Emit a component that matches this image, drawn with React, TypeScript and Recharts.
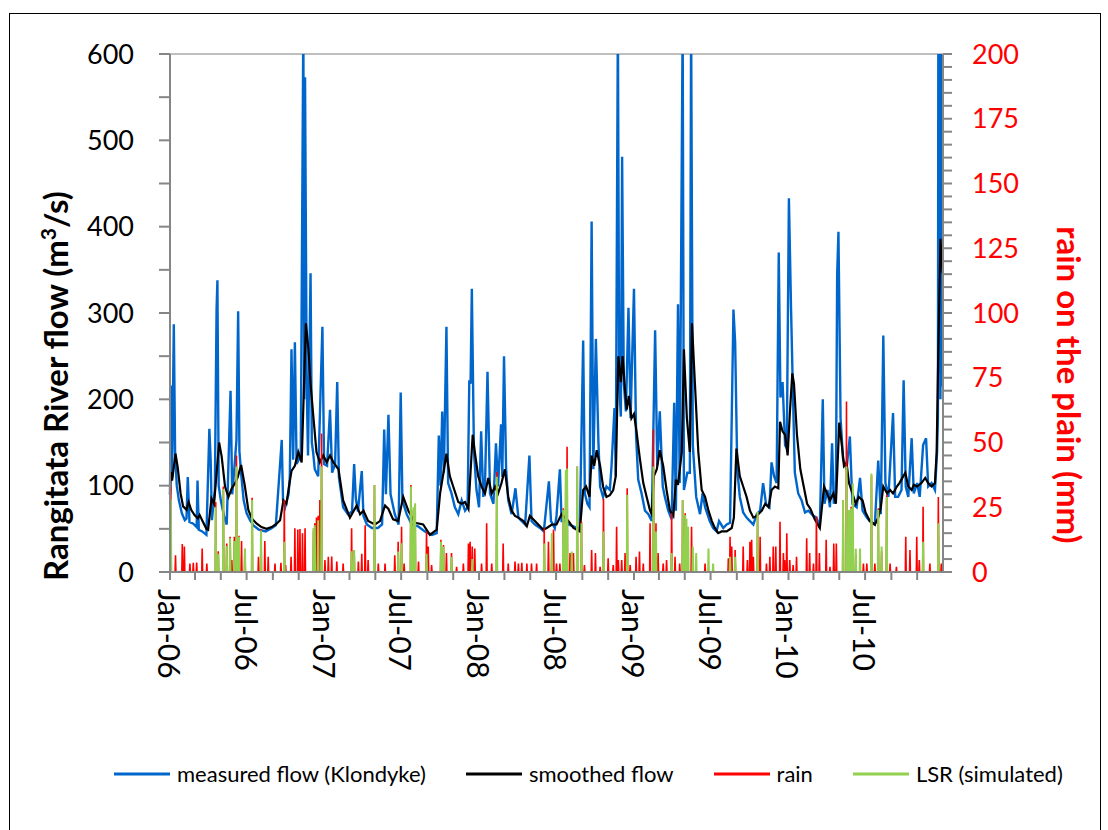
import { CartesianGrid, ComposedChart, Line, XAxis, YAxis } from 'recharts'

// [day since 1 Jan 2006, value]
type Pt = [number, number]

const START = Date.UTC(2006, 0, 1)
const dayOf = (y: number, m: number) => (Date.UTC(y, m, 1) - START) / 86400000
const END_DAY = dayOf(2011, 0)

const xTickLabels = ['Jan-06', 'Jul-06', 'Jan-07', 'Jul-07', 'Jan-08', 'Jul-08', 'Jan-09', 'Jul-09', 'Jan-10', 'Jul-10']

// measured flow at Klondyke, m3/s
const measuredFlow: Pt[] = [
  [0, 90], [2, 216], [5, 110], [9, 287], [12, 140], [16, 100], [21, 83], [28, 68], [35, 60], [39, 62],
  [42, 110], [46, 58], [55, 56], [63, 52], [65, 106], [68, 49], [76, 47], [86, 43], [93, 166], [96, 130],
  [99, 60], [106, 95], [110, 304], [112, 338], [115, 100], [120, 83], [128, 64], [134, 55], [143, 210], [147, 90],
  [152, 120], [157, 153], [161, 302], [164, 140], [168, 114], [174, 83], [181, 68], [189, 60], [197, 54], [210, 49],
  [226, 47], [238, 50], [250, 54], [264, 153], [267, 83], [272, 75], [280, 90], [283, 110], [287, 258], [291, 130],
  [295, 266], [299, 125], [304, 130], [309, 140], [315, 640], [317, 200], [319, 573], [323, 214], [326, 135], [332, 346],
  [335, 150], [338, 139], [342, 119], [350, 111], [360, 284], [364, 125], [371, 123], [378, 188], [383, 115], [390, 125],
  [395, 220], [399, 110], [409, 75], [420, 67], [430, 70], [435, 125], [439, 85], [444, 70], [453, 117], [457, 65],
  [465, 55], [477, 51], [491, 51], [501, 55], [506, 165], [510, 90], [516, 182], [521, 90], [531, 67], [540, 55],
  [545, 208], [549, 83], [559, 67], [571, 55], [586, 53], [602, 47], [619, 43], [630, 45], [635, 158], [639, 100],
  [643, 186], [647, 115], [653, 284], [657, 103], [665, 91], [673, 75], [681, 67], [689, 83], [697, 71], [703, 75],
  [707, 222], [710, 218], [713, 328], [718, 139], [724, 95], [730, 75], [735, 163], [740, 87], [744, 99], [750, 232],
  [756, 91], [764, 79], [770, 149], [775, 99], [782, 171], [785, 110], [789, 250], [794, 119], [799, 83], [807, 67],
  [816, 97], [823, 63], [831, 59], [839, 55], [849, 135], [854, 59], [862, 55], [874, 51], [883, 47], [895, 105],
  [900, 59], [909, 51], [913, 65], [921, 119], [925, 59], [933, 59], [941, 55], [953, 53], [961, 51], [968, 51],
  [976, 268], [980, 91], [986, 79], [991, 75], [996, 406], [1000, 119], [1006, 270], [1012, 151], [1016, 99], [1023, 87],
  [1031, 99], [1039, 95], [1043, 123], [1050, 190], [1053, 111], [1058, 640], [1061, 218], [1065, 180], [1068, 481], [1072, 218],
  [1077, 186], [1083, 306], [1088, 178], [1096, 328], [1101, 158], [1106, 107], [1114, 91], [1122, 71], [1130, 67], [1138, 59],
  [1146, 280], [1151, 123], [1157, 186], [1164, 99], [1169, 87], [1177, 71], [1185, 61], [1191, 196], [1195, 71], [1200, 310],
  [1204, 103], [1211, 640], [1214, 95], [1222, 115], [1228, 115], [1231, 640], [1235, 147], [1243, 87], [1252, 67], [1258, 91],
  [1264, 75], [1275, 59], [1283, 51], [1291, 47], [1297, 59], [1307, 51], [1315, 55], [1323, 57], [1331, 304], [1335, 266],
  [1340, 119], [1346, 87], [1354, 69], [1362, 63], [1370, 59], [1378, 55], [1386, 67], [1394, 71], [1401, 103], [1408, 79],
  [1416, 75], [1421, 127], [1427, 111], [1433, 103], [1438, 370], [1442, 202], [1447, 220], [1453, 147], [1457, 143], [1462, 433],
  [1467, 306], [1471, 218], [1476, 115], [1484, 91], [1492, 83], [1500, 69], [1508, 71], [1516, 67], [1520, 65], [1527, 63],
  [1535, 51], [1542, 200], [1546, 79], [1553, 95], [1559, 75], [1564, 149], [1568, 79], [1573, 91], [1576, 344], [1579, 394],
  [1584, 178], [1590, 131], [1598, 119], [1606, 157], [1612, 79], [1622, 75], [1630, 109], [1636, 71], [1646, 63], [1653, 59],
  [1665, 55], [1673, 129], [1679, 67], [1685, 274], [1690, 103], [1697, 87], [1708, 184], [1713, 87], [1720, 87], [1728, 95],
  [1733, 222], [1738, 99], [1744, 87], [1752, 155], [1757, 91], [1765, 103], [1771, 87], [1779, 147], [1786, 155], [1791, 99],
  [1799, 103], [1807, 95], [1812, 139], [1814, 180], [1815, 640], [1816, 230], [1817, 640], [1818, 258], [1819, 640], [1820, 200],
  [1821, 640], [1822, 215], [1823, 640], [1824, 240], [1825, 640],
]

// smoothed flow, m3/s
const smoothedFlow: Pt[] = [
  [0, 89], [2, 116], [5, 106], [13, 137], [18, 122], [25, 91], [31, 76], [39, 72], [44, 81], [50, 72],
  [58, 66], [66, 62], [70, 66], [78, 58], [86, 50], [90, 49], [98, 85], [104, 79], [110, 114], [116, 150],
  [122, 134], [130, 99], [138, 87], [146, 97], [154, 103], [160, 110], [168, 124], [177, 99], [185, 72], [193, 62],
  [205, 56], [216, 52], [228, 50], [240, 52], [252, 56], [260, 60], [268, 83], [275, 79], [283, 105], [287, 117],
  [295, 123], [303, 139], [311, 127], [321, 288], [327, 258], [332, 218], [339, 178], [346, 139], [354, 127], [362, 135],
  [370, 127], [378, 135], [386, 127], [398, 119], [409, 83], [425, 63], [441, 77], [449, 67], [457, 71], [468, 59],
  [484, 55], [496, 59], [508, 77], [516, 73], [527, 61], [539, 59], [551, 87], [563, 71], [579, 57], [598, 55],
  [614, 43], [630, 49], [638, 91], [646, 115], [653, 137], [661, 111], [669, 99], [681, 81], [689, 79], [697, 81],
  [705, 73], [708, 99], [715, 159], [720, 139], [728, 111], [736, 99], [744, 91], [752, 109], [760, 91], [768, 99],
  [775, 91], [783, 103], [791, 119], [799, 87], [807, 71], [815, 65], [823, 63], [835, 59], [843, 53], [850, 65],
  [858, 61], [870, 55], [882, 49], [890, 51], [902, 55], [913, 55], [925, 67], [933, 63], [941, 59], [953, 51],
  [961, 49], [968, 47], [976, 95], [983, 99], [991, 87], [996, 135], [1002, 123], [1008, 141], [1016, 123], [1023, 99],
  [1031, 87], [1039, 89], [1047, 95], [1053, 111], [1059, 250], [1065, 220], [1069, 250], [1075, 210], [1079, 188], [1084, 204],
  [1090, 178], [1096, 183], [1102, 163], [1110, 131], [1118, 103], [1126, 87], [1134, 71], [1138, 67], [1143, 111], [1150, 119],
  [1157, 141], [1165, 123], [1173, 95], [1181, 71], [1189, 65], [1195, 107], [1200, 101], [1209, 139], [1214, 258], [1221, 178],
  [1228, 139], [1233, 288], [1240, 218], [1248, 139], [1256, 95], [1264, 87], [1272, 71], [1280, 59], [1287, 51], [1295, 45],
  [1303, 47], [1315, 47], [1327, 51], [1332, 63], [1338, 143], [1346, 111], [1354, 99], [1362, 87], [1370, 71], [1378, 63],
  [1386, 65], [1398, 71], [1406, 79], [1414, 75], [1421, 95], [1429, 99], [1437, 97], [1441, 174], [1447, 163], [1453, 159],
  [1459, 135], [1464, 182], [1470, 230], [1474, 218], [1481, 159], [1489, 119], [1497, 99], [1505, 79], [1513, 73], [1523, 61],
  [1535, 51], [1545, 99], [1552, 91], [1559, 83], [1567, 91], [1573, 79], [1581, 173], [1587, 147], [1592, 123], [1598, 127],
  [1604, 103], [1612, 91], [1620, 79], [1627, 87], [1636, 83], [1643, 69], [1653, 59], [1665, 55], [1673, 63], [1679, 75],
  [1685, 99], [1694, 91], [1701, 95], [1708, 91], [1717, 99], [1723, 103], [1737, 115], [1744, 99], [1752, 95], [1757, 101],
  [1765, 99], [1775, 103], [1784, 109], [1791, 103], [1799, 99], [1807, 103], [1811, 139], [1815, 258], [1820, 386], [1825, 346],
]

// daily rain on the plain, mm (days without rain are zero)
const rainDays: Pt[] = [
  [0, 6], [2, 33], [13, 6.5], [29, 10.8], [34, 9.8], [47, 3.3], [55, 3.6], [63, 3.7], [76, 9.1], [87, 3.3],
  [108, 27], [114, 8], [126, 33], [134, 11], [142, 13.6], [146, 4.6], [152, 13.6], [157, 45], [163, 14], [169, 12],
  [177, 9], [194, 28.7], [209, 5.9], [215, 16.5], [224, 12], [232, 5.9], [248, 3.3], [262, 3.6], [270, 27.8], [273, 2.7],
  [286, 5.9], [295, 16.9], [302, 16.4], [307, 16.6], [313, 15], [319, 16.9], [339, 16], [342, 18.8], [346, 21], [350, 21.7],
  [354, 27.8], [358, 53.5], [366, 4.6], [374, 5.9], [382, 6], [394, 4], [409, 3.3], [429, 16.9], [435, 8.5], [445, 4],
  [453, 7], [461, 18], [468, 4.6], [483, 33.6], [492, 3.3], [508, 3.3], [531, 6.5], [539, 11.7], [547, 17.5], [553, 3.3],
  [569, 33.6], [575, 24], [579, 26], [587, 4], [606, 15.6], [610, 9.8], [618, 2.7], [640, 12.4], [646, 10.4], [653, 7.3],
  [665, 7.3], [677, 2], [693, 3.3], [705, 11], [709, 11.7], [714, 9.8], [720, 9.1], [736, 3.3], [748, 18.8], [760, 3.3],
  [772, 38.7], [787, 11], [799, 3.3], [815, 4], [823, 3.3], [831, 3.6], [843, 3.3], [854, 3.3], [866, 3.3], [884, 16.9],
  [894, 11.7], [902, 11], [906, 16.4], [913, 3.3], [921, 3.3], [929, 24.6], [935, 39], [938, 48.4], [945, 7.3], [949, 7],
  [953, 7.3], [962, 40.7], [972, 19.4], [979, 2.7], [996, 8.5], [1005, 7.3], [1016, 2], [1024, 28.4], [1035, 5.3], [1047, 2.7],
  [1055, 17.5], [1059, 4.6], [1067, 4.6], [1075, 7.3], [1080, 32.3], [1087, 2.7], [1101, 5.9], [1109, 7.9], [1118, 3.3], [1134, 18.8],
  [1142, 55], [1148, 18.8], [1153, 7.3], [1165, 3.3], [1173, 4.6], [1185, 22.7], [1193, 5.9], [1204, 3.3], [1211, 27.8], [1217, 22.7],
  [1232, 17.5], [1264, 3.3], [1319, 5.3], [1323, 13.6], [1327, 9.8], [1335, 8.5], [1354, 9.8], [1364, 4.6], [1370, 11.7], [1374, 12.4],
  [1378, 5.9], [1388, 22.7], [1394, 13.6], [1409, 3.3], [1417, 5.9], [1425, 9.8], [1431, 9.8], [1441, 19.4], [1449, 7.3], [1452, 4.6],
  [1457, 15], [1464, 4.6], [1472, 2.7], [1480, 5.9], [1504, 13], [1511, 7.3], [1520, 3.3], [1527, 21.4], [1534, 7.3], [1550, 12.4],
  [1559, 2], [1568, 11], [1574, 11], [1590, 27.8], [1598, 65.8], [1604, 20], [1609, 25.2], [1620, 7], [1638, 3.3], [1646, 3.3],
  [1657, 37.3], [1665, 3.3], [1673, 24.6], [1681, 8], [1693, 29.7], [1701, 3.3], [1716, 2], [1738, 13.6], [1748, 8.5], [1764, 13.6],
  [1770, 4.6], [1779, 25.2], [1795, 3.3], [1815, 29], [1822, 3.3],
]

// simulated land surface recharge, mm (zero on other days)
const lsrDays: Pt[] = [
  [2, 28], [108, 25], [114, 7], [126, 32], [134, 10], [142, 13], [152, 12], [157, 40.7], [163, 13.6], [177, 9],
  [194, 27.8], [215, 16], [270, 11.7], [339, 17], [342, 18], [350, 20], [358, 40.7], [429, 8], [435, 8.5], [483, 33.6],
  [539, 7.9], [547, 11.1], [569, 33], [575, 25], [579, 26.5], [606, 7], [640, 11.7], [646, 9.8], [665, 5.9], [714, 5],
  [772, 36.8], [884, 11], [902, 15], [929, 24], [935, 39.4], [938, 40], [949, 7.9], [962, 40.7], [972, 18.8], [1024, 15.6],
  [1080, 29.7], [1142, 40.7], [1148, 15.6], [1185, 7.3], [1211, 27.8], [1217, 22], [1220, 20.6], [1224, 17.5], [1235, 9.8], [1243, 7.3],
  [1272, 9.1], [1283, 3.3], [1323, 5.9], [1335, 5.9], [1388, 23.3], [1590, 27.8], [1598, 40.7], [1604, 23.9], [1609, 24.6], [1613, 34.2],
  [1620, 9], [1630, 9.1], [1657, 38], [1673, 24], [1681, 9.8], [1693, 29], [1779, 11.7], [1815, 18.8],
]

const toRows = (pts: Pt[]) => pts.map(([day, v]) => ({ day, v }))

// daily series: zero either side of each wet day
const dailyRows = (pts: Pt[]) => {
  const rows = [{ day: 0, v: 0 }]
  pts.forEach(([day, v]) => {
    rows.push({ day: Math.max(day - 1, 0), v: 0 }, { day, v }, { day: day + 1, v: 0 })
  })
  rows.push({ day: END_DAY, v: 0 })
  return rows
}

const xTicks = Array.from({ length: 30 }, (_, i) => dayOf(2006, i * 2))
const labelDays = xTickLabels.map((_, i) => dayOf(2006, i * 6))
const flowTicks = Array.from({ length: 13 }, (_, i) => i * 50)
const rainTicks = Array.from({ length: 41 }, (_, i) => i * 5)

const FONT = 'Lato, "Open Sans", sans-serif'
const AXIS = '#868686'

const DateTick = (props: any) => {
  const { x, y, payload } = props
  const i = labelDays.indexOf(payload.value)
  if (i < 0) return null
  return (
    <text
      x={x}
      y={y}
      transform={`rotate(90 ${x} ${y})`}
      textAnchor="start"
      dominantBaseline="central"
      fill="#000"
      fontSize={30}
      fontFamily={FONT}
    >
      {xTickLabels[i]}
    </text>
  )
}

const legendItems = [
  { name: 'measured flow (Klondyke)', color: '#0066CC' },
  { name: 'smoothed flow', color: '#000000' },
  { name: 'rain', color: '#FF0000' },
  { name: 'LSR (simulated)', color: '#92D050' },
]

export default function App() {
  return (
    <div style={{ position: 'absolute', left: 0, top: 0, width: 1108, height: 830, background: '#fff', fontFamily: FONT }}>
      <div style={{ position: 'absolute', left: 9, top: 13, width: 1092, height: 830, border: '1px solid #000', boxSizing: 'border-box' }} />

      <ComposedChart width={1108} height={830} margin={{ top: 54, right: 85, bottom: 138, left: 80 }}>
        <XAxis xAxisId="grid" type="number" dataKey="day" domain={[0, END_DAY]} ticks={labelDays} hide />
        <YAxis yAxisId="grid" domain={[0, 600]} ticks={[0, 100, 200, 300, 400, 500, 600]} hide />
        <CartesianGrid xAxisId="grid" yAxisId="grid" stroke="#BFBFBF" strokeWidth={2} />

        <XAxis
          type="number"
          dataKey="day"
          domain={[0, END_DAY]}
          ticks={xTicks}
          interval={0}
          height={120}
          stroke={AXIS}
          strokeWidth={2}
          tickSize={8}
          tickMargin={9}
          tick={<DateTick />}
        />
        <YAxis
          yAxisId="flow"
          domain={[0, 600]}
          allowDataOverflow
          ticks={flowTicks}
          interval={0}
          width={90}
          stroke={AXIS}
          strokeWidth={2}
          tickSize={11}
          tickMargin={25}
          tickFormatter={(v: number) => (v % 100 === 0 ? String(v) : '')}
          tick={{ fill: '#000', fontSize: 27, fontFamily: FONT }}
        />
        <YAxis
          yAxisId="rain"
          orientation="right"
          domain={[0, 200]}
          ticks={rainTicks}
          interval={0}
          width={80}
          stroke={AXIS}
          strokeWidth={2}
          tickSize={9}
          tickMargin={20}
          tickFormatter={(v: number) => (v % 25 === 0 ? String(v) : '')}
          tick={{ fill: '#FF0000', fontSize: 27, fontFamily: FONT }}
        />

        <Line yAxisId="flow" data={toRows(measuredFlow)} dataKey="v" stroke="#0066CC" strokeWidth={2.4} dot={false} isAnimationActive={false} />
        <Line yAxisId="flow" data={toRows(smoothedFlow)} dataKey="v" stroke="#000000" strokeWidth={2.2} dot={false} isAnimationActive={false} />
        <Line yAxisId="rain" data={dailyRows(rainDays)} dataKey="v" stroke="#FF0000" strokeWidth={1.6} dot={false} isAnimationActive={false} />
        <Line yAxisId="rain" data={dailyRows(lsrDays)} dataKey="v" stroke="#92D050" strokeWidth={2} dot={false} isAnimationActive={false} />
      </ComposedChart>

      <div
        style={{
          position: 'absolute',
          left: 55,
          top: 386,
          transform: 'translate(-50%, -50%) rotate(-90deg)',
          whiteSpace: 'nowrap',
          fontSize: 33,
          fontWeight: 700,
          color: '#000',
        }}
      >
        Rangitata River flow (m<sup style={{ fontSize: 21 }}>3</sup>/s)
      </div>
      <div
        style={{
          position: 'absolute',
          left: 1070,
          top: 385,
          transform: 'translate(-50%, -50%) rotate(90deg)',
          whiteSpace: 'nowrap',
          fontSize: 33,
          fontWeight: 700,
          color: '#FF0000',
        }}
      >
        rain on the plain (mm)
      </div>

      <div style={{ position: 'absolute', left: 114, top: 760, display: 'flex', alignItems: 'center', gap: 40, fontSize: 22, color: '#000' }}>
        {legendItems.map((item) => (
          <div key={item.name} style={{ display: 'flex', alignItems: 'center' }}>
            <svg width={56} height={10} style={{ marginRight: 7 }}>
              <line x1={0} y1={5} x2={56} y2={5} stroke={item.color} strokeWidth={3} />
            </svg>
            <span>{item.name}</span>
          </div>
        ))}
      </div>
    </div>
  )
}
